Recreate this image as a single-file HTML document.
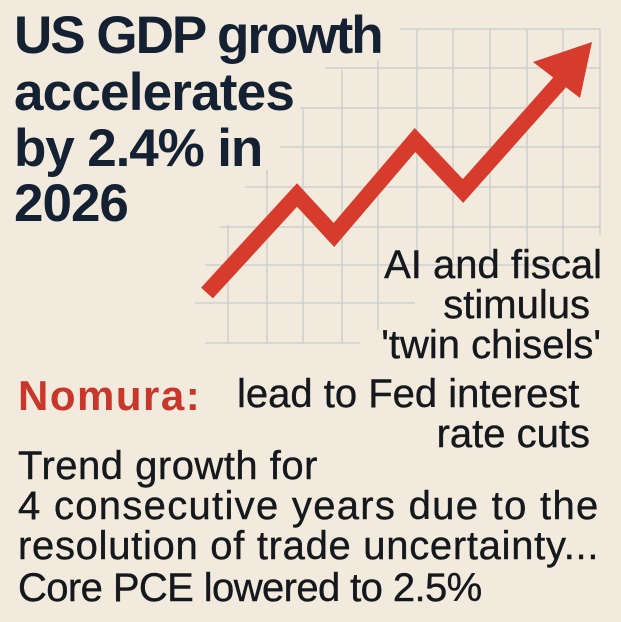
<!DOCTYPE html>
<html><head><meta charset="utf-8"><style>
body{margin:0;width:621px;height:622px;background:#f2eadd;overflow:hidden;position:relative;font-family:"Liberation Sans",sans-serif;color:#15181d}
.t{position:absolute;white-space:nowrap;line-height:1}
.h{font-weight:bold;font-size:53px;letter-spacing:-2px;color:#142132;left:14px}
.m{font-size:40px;-webkit-text-stroke:0.4px #15181d}
</style></head><body>
<svg width="621" height="622" style="position:absolute;left:0;top:0">
<g stroke="#ccd0cf" stroke-width="1.5" fill="none">
<line x1="400" y1="29" x2="600" y2="29"/>
<line x1="325" y1="68" x2="600" y2="68"/>
<line x1="300" y1="108" x2="600" y2="108"/>
<line x1="280" y1="147" x2="600" y2="147"/>
<line x1="245" y1="187" x2="600" y2="187"/>
<line x1="220" y1="227" x2="600" y2="227"/>
<line x1="205" y1="265" x2="560" y2="265"/>
<line x1="195" y1="303" x2="415" y2="303"/>
<line x1="205" y1="343" x2="360" y2="343"/>
<line x1="228" y1="225" x2="228" y2="343"/>
<line x1="267" y1="170" x2="267" y2="343"/>
<line x1="303" y1="108" x2="303" y2="343"/>
<line x1="342" y1="70" x2="342" y2="343"/>
<line x1="378" y1="60" x2="378" y2="330"/>
<line x1="417" y1="29" x2="417" y2="260"/>
<line x1="453" y1="29" x2="453" y2="260"/>
<line x1="490" y1="29" x2="490" y2="260"/>
<line x1="527" y1="29" x2="527" y2="260"/>
<line x1="563" y1="29" x2="563" y2="260"/>
<line x1="600" y1="29" x2="600" y2="235"/>
</g>
<polyline points="207,293 297,195 334,235 415,140 463,191 560,82" fill="none" stroke="#d63b2b" stroke-width="16" stroke-linejoin="miter"/>
<polygon points="533,62 592,42 580,98" fill="#d63b2b"/>
</svg>
<div class="t h" style="top:9px">US GDP growth</div>
<div class="t h" style="top:66px;letter-spacing:-0.8px">accelerates</div>
<div class="t h" style="top:122px;letter-spacing:-1.1px">by 2.4% in</div>
<div class="t h" style="top:177px;letter-spacing:-1px">2026</div>
<div class="t m" style="right:19px;top:245px">AI and fiscal</div>
<div class="t m" style="right:31px;top:285px">stimulus</div>
<div class="t m" style="right:20px;top:325px">'twin chisels'</div>
<div class="t" style="left:18px;top:375px;font-size:42px;font-weight:bold;color:#c8372a;letter-spacing:1.5px">Nomura:</div>
<div class="t m" style="left:237px;top:374px">lead to Fed interest</div>
<div class="t m" style="right:31px;top:414px">rate cuts</div>
<div class="t m" style="left:18px;top:446px;letter-spacing:0.5px">Trend growth for</div>
<div class="t m" style="left:18px;top:486px;letter-spacing:1.3px">4 consecutive years due to the</div>
<div class="t m" style="left:18px;top:526px;letter-spacing:0.7px">resolution of trade uncertainty...</div>
<div class="t m" style="left:18px;top:568px;letter-spacing:-0.6px">Core PCE lowered to 2.5%</div>
</body></html>
